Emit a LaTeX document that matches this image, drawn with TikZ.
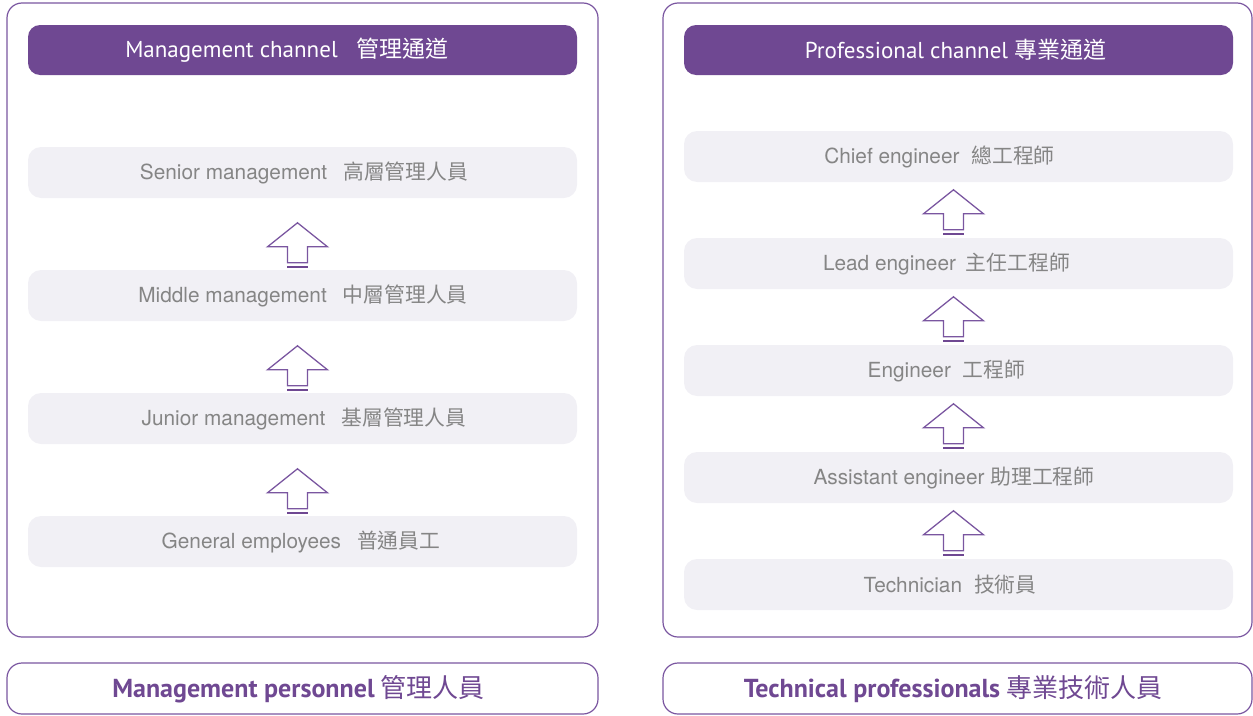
\documentclass[tikz,border=0pt]{standalone}
\usepackage{fontspec}
\setmainfont{TeX Gyre Heros}
\newfontfamily\hdfont{PT Sans}
\newfontfamily\cjk{Noto Sans CJK TC}
\usetikzlibrary{calc}
\definecolor{purp}{HTML}{6F4892}
\definecolor{purpline}{HTML}{7A56A0}
\definecolor{rowfill}{HTML}{F1F0F5}
\definecolor{rowgray}{HTML}{858585}
\tikzset{
  panel/.style={draw=purpline, line width=1.2pt, rounded corners=15pt, minimum width=591pt, inner sep=0pt},
  header/.style={fill=purp, rounded corners=12pt, minimum width=549pt, minimum height=50pt, inner sep=0pt},
  rowbox/.style={fill=rowfill, rounded corners=13pt, minimum width=549pt, minimum height=51pt, inner sep=0pt},
  rowtext/.style={text=rowgray, font=\fontsize{20.8}{24}\selectfont, inner sep=0pt},
  hdtext/.style={text=white, font=\hdfont\fontsize{23}{27}\selectfont, inner sep=0pt},
  bottext/.style={text=purp, font=\hdfont\bfseries\fontsize{26}{30}\selectfont, inner sep=0pt},
  uparr/.pic={
    \draw[purpline, line width=1.3pt, fill=white, line join=miter]
      (0,-44) -- (30,-20) -- (10,-20) -- (10,-4) -- (-10,-4) -- (-10,-20) -- (-30,-20) -- cycle;
    \draw[purp, line width=2.5pt] (-10.5,0) -- (10.5,0);
  }
}
\begin{document}
\begin{tikzpicture}[x=1pt,y=-1pt]
\useasboundingbox (0,0) rectangle (1253,715);
% panels
\node[panel, minimum height=634pt] (LP) at (302.5,320) {};
\node[panel, minimum height=634pt, minimum width=589pt] (RP) at (957.5,320) {};
\node[panel, minimum height=51pt] (LB) at (302.5,688.5) {};
\node[panel, minimum height=51pt, minimum width=589pt] (RB) at (957.5,688.5) {};
\node[bottext] at (298.5,689) {Management personnel\hspace{6pt}{\cjk\mdseries 管理人員}};
\node[bottext] at (953,689) {Technical professionals\hspace{6pt}{\cjk\mdseries 專業技術人員}};
% headers
\node[header] (LH) at (302.5,50) {};
\node[header] (RH) at (958.5,50) {};
\node[hdtext] at (287,50) {Management channel\hspace{19pt}{\cjk 管理通道}};
\node[hdtext] at (955.5,50) {Professional channel\hspace{6pt}{\cjk 專業通道}};
% left rows
\node[rowbox] (L1) at (302.5,172.5) {};
\node[rowbox] (L2) at (302.5,295.5) {};
\node[rowbox] (L3) at (302.5,418.5) {};
\node[rowbox] (L4) at (302.5,541.5) {};
\node[rowtext] at (304,173) {Senior management\hspace{16pt}{\cjk 高層管理人員}};
\node[rowtext] at (303,296) {Middle management\hspace{16pt}{\cjk 中層管理人員}};
\node[rowtext] at (304,419) {Junior management\hspace{16pt}{\cjk 基層管理人員}};
\node[rowtext] at (301,542) {General employees\hspace{16pt}{\cjk 普通員工}};
\pic at ($(L2.north)+(-5,-3)$) {uparr};
\pic at ($(L3.north)+(-5,-3)$) {uparr};
\pic at ($(L4.north)+(-5,-3)$) {uparr};
% right rows
\node[rowbox] (R1) at (958.5,156.5) {};
\node[rowbox] (R2) at (958.5,263.5) {};
\node[rowbox] (R3) at (958.5,370.5) {};
\node[rowbox] (R4) at (958.5,477.5) {};
\node[rowbox] (R5) at (958.5,584.5) {};
\node[rowtext] at (939.5,157) {Chief engineer\hspace{12pt}{\cjk 總工程師}};
\node[rowtext] at (946.5,264) {Lead engineer\hspace{10pt}{\cjk 主任工程師}};
\node[rowtext] at (946.5,371) {Engineer\hspace{12pt}{\cjk 工程師}};
\node[rowtext] at (954,478) {Assistant engineer\hspace{6pt}{\cjk 助理工程師}};
\node[rowtext] at (950,585) {Technician\hspace{12pt}{\cjk 技術員}};
\pic at ($(R2.north)+(-5,-4)$) {uparr};
\pic at ($(R3.north)+(-5,-4)$) {uparr};
\pic at ($(R4.north)+(-5,-4)$) {uparr};
\pic at ($(R5.north)+(-5,-4)$) {uparr};
\end{tikzpicture}
\end{document}
